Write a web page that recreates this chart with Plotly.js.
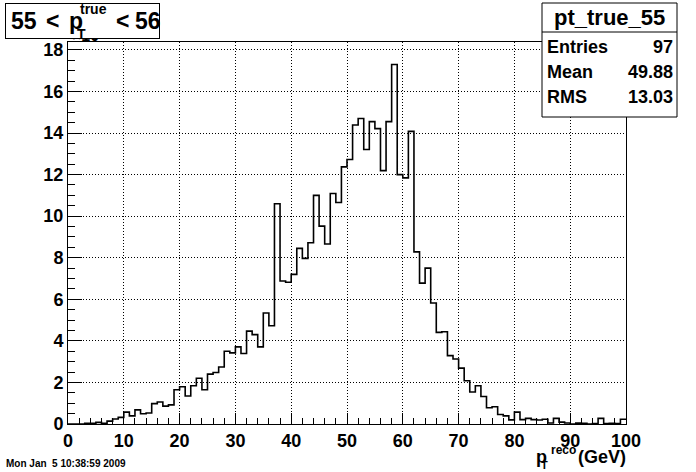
<!DOCTYPE html>
<html>
<head>
<meta charset="utf-8">
<script src="https://cdn.plot.ly/plotly-3.0.1.min.js"></script>
<style>html,body{margin:0;padding:0;background:#fff;}#chart{width:696px;height:472px;}</style>
</head>
<body>
<div id="chart"></div>
<script>
// Histogram pt_true_55: 100 bins of 1 GeV from 0 to 100
const histName = "pt_true_55";
const xMin = 0, xMax = 100, nBins = 100;
const binContents = [
  0, 0, 0, 0.03, 0.03, 0.08, 0.03, 0.14, 0.24, 0.32,
  0.57, 0.39, 0.68, 0.49, 0.53, 0.98, 1.06, 0.86, 0.92, 1.65,
  1.79, 1.35, 1.84, 2.20, 1.65, 2.40, 2.48, 2.74, 3.50, 3.42,
  3.71, 3.39, 4.47, 4.30, 3.71, 5.34, 4.73, 10.60, 6.88, 6.82,
  7.20, 8.45, 7.97, 8.72, 11.00, 9.52, 8.66, 11.09, 10.66, 12.37,
  12.73, 14.39, 14.70, 13.21, 14.55, 14.21, 12.19, 14.55, 17.30, 12.00,
  11.84, 14.08, 8.28, 6.78, 7.50, 5.82, 4.41, 4.44, 3.29, 3.13,
  2.69, 2.08, 1.54, 1.84, 1.32, 0.78, 0.83, 0.46, 0.39, 0.20,
  0.57, 0.21, 0.27, 0.21, 0.19, 0.23, 0.05, 0.27, 0.09, 0.05,
  0, 0.04, 0.03, 0, 0.02, 0.27, 0.02, 0.03, 0.02, 0.23
];
const statLabels = ["Entries", "Mean", "RMS"];
const statValues = ["97", "49.88", "13.03"];
const xTickVals = [0, 10, 20, 30, 40, 50, 60, 70, 80, 90, 100];
const yTickVals = [0, 2, 4, 6, 8, 10, 12, 14, 16, 18];
const dateText = "Mon Jan&nbsp; 5 10:38:59 2009";

// bin edges for a step outline
const binW = (xMax - xMin) / nBins;
const xs = [], ys = [];
for (let i = 0; i < nBins; i++) { xs.push(xMin + i * binW); ys.push(binContents[i]); }
xs.push(xMax); ys.push(binContents[nBins - 1]);

// layout helpers: pixel -> paper
const L = 68, R = 626, T = 42, B = 424;
const px = X => (X - L) / (R - L);
const py = Y => (B - Y) / (B - T);
const FAM = "Liberation Sans, Arial, Helvetica, sans-serif";
const f = (s) => ({family: FAM, size: s, color: "black", weight: "bold"});
function txt(text, X, Y, size, xa) {
  return {text: text, xref: "paper", yref: "paper", x: px(X), y: py(Y),
          xanchor: xa || "left", yanchor: "middle", showarrow: false, font: f(size)};
}

const annotations = [];
// hidden exponent label behind the title box
annotations.push(txt("×10", 70, 36, 16));
// title box
annotations.push({text: "&nbsp;", xref: "paper", yref: "paper", x: px(82.5), y: py(21),
  xanchor: "center", yanchor: "middle", showarrow: false, width: 151, height: 32,
  bgcolor: "white", bordercolor: "black", borderwidth: 1, borderpad: 1, font: f(10)});
annotations.push(txt("55", 9, 21, 23));
annotations.push(txt("<", 44, 21, 23));
annotations.push(txt("p", 67, 21, 23));
annotations.push(txt("true", 78, 9, 14));
annotations.push(txt("T", 75, 34, 14));
annotations.push(txt("<", 114, 21, 23));
annotations.push(txt("56", 133, 21, 23));
// stats box text
annotations.push(txt(histName, 609.5, 17, 22, "center"));
const rowY = [47, 72, 97];
statLabels.forEach((s, i) => {
  annotations.push(txt(s, 545, rowY[i], 18));
  annotations.push(txt(statValues[i], 675, rowY[i], 18, "right"));
});
// x axis title
annotations.push(txt("p", 534, 457, 18));
annotations.push(txt("reco", 549, 450, 12));
annotations.push(txt("T", 539, 465, 11));
annotations.push(txt("(GeV)", 576, 457, 18));
// date
annotations.push(txt(dateText, 4, 463, 10));

const shapes = [
  {type: "rect", xref: "paper", yref: "paper", x0: px(542), x1: px(677), y0: py(3), y1: py(117),
   line: {color: "black", width: 1}, fillcolor: "white", layer: "above"},
  {type: "line", xref: "paper", yref: "paper", x0: px(542), x1: px(677), y0: py(32), y1: py(32),
   line: {color: "black", width: 1}, layer: "above"}
];

const trace = {
  type: "scatter", mode: "lines", x: xs, y: ys,
  line: {shape: "hv", color: "black", width: 1.6},
  hoverinfo: "skip", showlegend: false
};

const layout = {
  width: 696, height: 472,
  margin: {l: L, r: 696 - R, t: T, b: 472 - B, pad: 0},
  paper_bgcolor: "white", plot_bgcolor: "white",
  showlegend: false,
  xaxis: {
    range: [xMin, xMax], tickvals: xTickVals, ticktext: xTickVals.map(String),
    ticks: "inside", ticklen: 11, tickwidth: 1, tickcolor: "black",
    showline: true, linecolor: "black", linewidth: 1, mirror: true,
    showgrid: true, gridcolor: "black", gridwidth: 1, griddash: "1px,2px",
    zeroline: false, tickfont: f(18), fixedrange: true,
    minor: {dtick: 2, tick0: 0, ticks: "inside", ticklen: 6, tickcolor: "black", tickwidth: 1, showgrid: false}
  },
  yaxis: {
    range: [0, 18.38], tickvals: yTickVals, ticktext: yTickVals.map(String),
    ticks: "inside", ticklen: 14, tickwidth: 1, tickcolor: "black",
    showline: true, linecolor: "black", linewidth: 1, mirror: true,
    showgrid: true, gridcolor: "black", gridwidth: 1, griddash: "1px,2px",
    zeroline: false, tickfont: f(18), fixedrange: true,
    minor: {dtick: 0.5, tick0: 0, ticks: "inside", ticklen: 7, tickcolor: "black", tickwidth: 1, showgrid: false}
  },
  annotations: annotations,
  shapes: shapes
};

Plotly.newPlot("chart", [trace], layout, {staticPlot: true, displayModeBar: false});
</script>
</body>
</html>
